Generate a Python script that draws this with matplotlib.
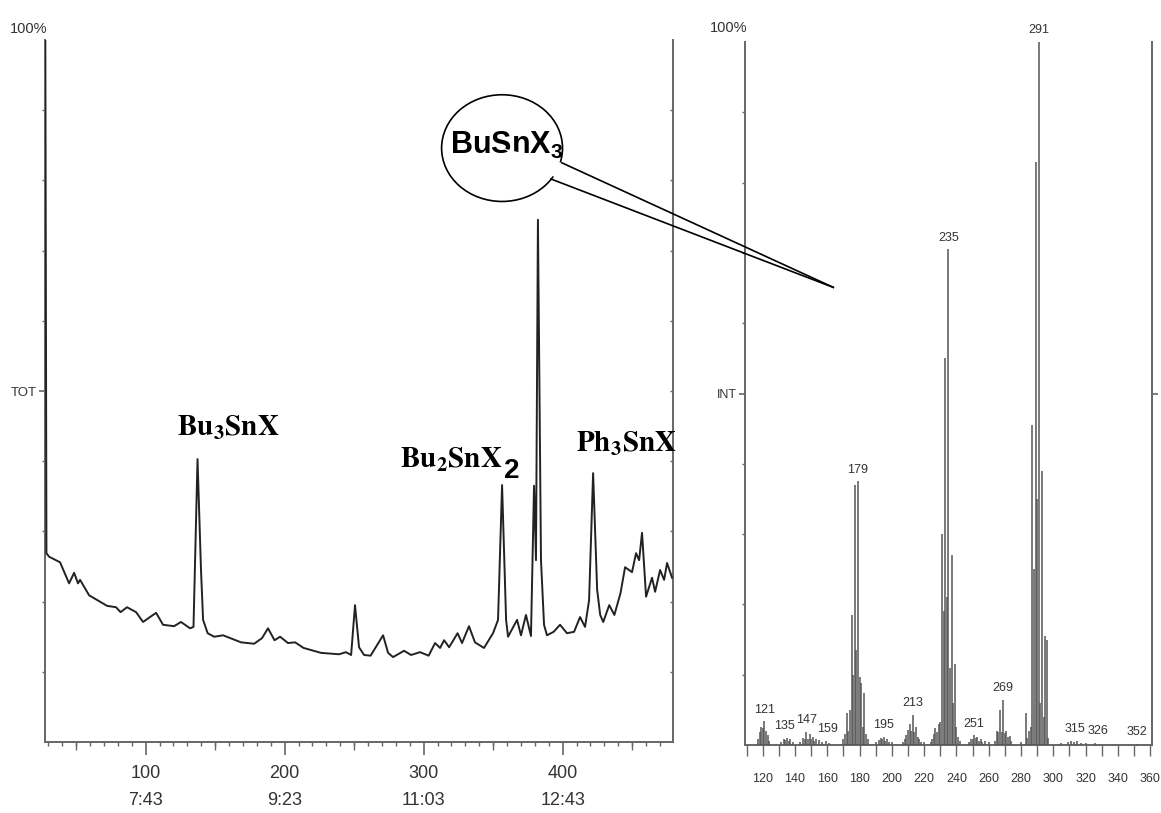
import numpy as np
import matplotlib.pyplot as plt
from matplotlib.patches import Ellipse, Polygon
from matplotlib.lines import Line2D
from matplotlib.ticker import MultipleLocator, FixedLocator, NullFormatter

# total ion current trace: scan number and % of full scale
scan = [27.8, 28.6, 30.5, 38.4, 44.9, 48.5, 51.3, 52.8, 59.3, 72.2,
        78.7, 81.9, 86.6, 93.1, 98.1, 103.1, 107.5, 112.5, 120.4, 125.4,
        131.9, 134.4, 137.3, 139.8, 141.3, 144.6, 149.2, 155.7, 168.6, 178.0,
        183.7, 188.0, 192.7, 196.7, 202.4, 207.5, 213.6, 226.2, 239.1, 244.1,
        247.8, 250.6, 253.5, 257.1, 261.8, 270.8, 274.4, 278.0, 285.9, 290.9,
        297.4, 303.6, 308.2, 311.8, 314.7, 318.3, 324.4, 327.6, 332.6, 336.9,
        343.4, 349.9, 353.5, 356.4, 359.3, 360.7, 367.2, 370.0, 373.6, 377.2,
        379.4, 380.8, 382.2, 384.4, 386.6, 388.7, 393.5, 398.1, 403.1, 408.2,
        412.5, 416.1, 419.0, 421.9, 424.8, 427.0, 429.2, 433.5, 437.2, 441.6,
        444.9, 449.9, 452.8, 455.0, 457.1, 460.0, 464.3, 466.5, 470.1, 473.0,
        475.1, 478.7]
tic = [100.0, 26.9, 26.4, 25.6, 22.6, 24.1, 22.6, 23.1, 20.9, 19.4,
       19.2, 18.5, 19.2, 18.5, 17.1, 17.8, 18.4, 16.7, 16.5, 17.1,
       16.2, 16.4, 40.3, 24.5, 17.4, 15.5, 15.0, 15.2, 14.2, 14.0,
       14.8, 16.2, 14.5, 15.0, 14.1, 14.2, 13.4, 12.7, 12.5, 12.8,
       12.4, 19.5, 13.5, 12.4, 12.3, 15.2, 12.7, 12.1, 13.0, 12.4,
       12.8, 12.3, 14.1, 13.4, 14.5, 13.5, 15.5, 14.1, 16.5, 14.2,
       13.4, 15.5, 17.4, 36.6, 17.4, 15.0, 17.4, 15.2, 18.1, 15.1,
       36.5, 25.9, 74.4, 25.9, 16.7, 15.2, 15.7, 16.7, 15.5, 15.7,
       17.8, 16.4, 20.2, 38.3, 21.7, 18.1, 17.1, 19.5, 18.1, 21.2,
       24.9, 24.2, 26.9, 25.9, 29.8, 20.7, 23.4, 21.4, 24.5, 23.1,
       25.5, 23.4]

scan_ticks = [100, 200, 300, 400]
rt_labels = ["7:43", "9:23", "11:03", "12:43"]

# compound labels: text, scan, % position
peak_names = [r"$\mathbf{Bu_3SnX}$", r"$\mathbf{Bu_2SnX}$", r"$\mathbf{Ph_3SnX}$"]
peak_name_x = [159.3, 320.0, 445.6]
peak_name_y = [44.7, 40.2, 42.4]

# mass spectrum (m/z, relative intensity %)
mz = [117, 118, 119, 120, 121, 122, 123, 124,
      131, 133, 134, 135, 136, 137, 139,
      143, 145, 146, 147, 148, 149, 150, 151, 152, 153, 155, 157, 159, 161,
      170, 171, 172, 173, 174, 175, 176, 177, 178, 179, 180, 181, 182, 183, 184, 185,
      190, 192, 193, 194, 195, 196, 197, 198, 200,
      207, 208, 209, 210, 211, 212, 213, 214, 215, 216, 217, 218, 220,
      224, 225, 226, 227, 228, 229, 230, 231, 232, 233, 234, 235, 236, 237, 238, 239, 240, 241, 242,
      248, 249, 250, 251, 252, 253, 254, 255, 256, 258, 260,
      264, 265, 266, 267, 268, 269, 270, 271, 272, 273, 274,
      280, 283, 284, 285, 286, 287, 288, 289, 290, 291, 292, 293, 294, 295, 296, 297,
      305, 309, 311, 313, 315, 317, 320, 326, 352]
intensity = [0.8, 1.8, 2.6, 2.4, 3.4, 2.0, 1.4, 0.6,
             0.5, 0.9, 0.7, 1.0, 0.6, 0.8, 0.4,
             0.5, 1.0, 0.8, 1.9, 0.9, 1.5, 0.8, 1.1, 0.6, 0.9, 0.7, 0.5, 0.6, 0.3,
             0.8, 1.5, 4.5, 2.0, 5.0, 18.5, 10.0, 37.0, 13.5, 37.5, 9.7, 8.8, 2.5, 7.4, 1.5, 0.8,
             0.4, 0.7, 1.0, 0.8, 1.2, 0.6, 0.9, 0.4, 0.5,
             0.5, 0.9, 1.4, 2.2, 3.0, 2.0, 4.3, 1.8, 2.6, 1.2, 0.9, 0.5, 0.4,
             0.5, 0.9, 1.5, 2.4, 1.8, 3.0, 3.3, 30.0, 19.0, 55.0, 21.0, 70.5, 11.0, 27.0, 6.0, 11.5, 2.5, 1.2, 0.6,
             0.4, 0.9, 0.8, 1.4, 1.0, 1.1, 0.6, 0.8, 0.5, 0.6, 0.4,
             0.6, 2.0, 1.8, 5.0, 1.8, 6.4, 1.7, 2.0, 1.2, 1.3, 0.6,
             0.5, 4.5, 1.0, 2.0, 2.5, 45.5, 25.0, 83.0, 35.0, 100.0, 6.0, 39.0, 4.0, 15.5, 15.0, 1.0,
             0.3, 0.5, 0.6, 0.4, 0.6, 0.3, 0.3, 0.3, 0.2]
labelled_mz = [121, 135, 147, 159, 179, 195, 213, 235, 251, 269, 291, 315, 326, 352]
# small sideways nudges (points) where neighbouring labels crowd
label_nudge = {135: -1.6, 159: 1.6, 315: -1.8, 326: 1.8}

plt.rcParams['font.family'] = ['Liberation Sans', 'DejaVu Sans']
plt.rcParams['mathtext.fontset'] = 'custom'
plt.rcParams['mathtext.bf'] = 'Liberation Sans:bold'
plt.rcParams['mathtext.rm'] = 'Liberation Sans'

axcol = '#666666'
txtcol = '#333333'

fig = plt.figure(figsize=(11.61, 8.13), dpi=100)
ax = fig.add_axes([0.0388, 0.0873, 0.5409, 0.8635])
ax2 = fig.add_axes([0.6417, 0.0836, 0.3506, 0.8647])

# ---- chromatogram ----
ax.plot(scan, tic, color='#222222', lw=1.4, zorder=3)
ax.set_xlim(27.6, 479.4)
ax.set_ylim(0, 100)
ax.spines['top'].set_visible(False)
for s in ['left', 'bottom', 'right']:
    ax.spines[s].set_color(axcol)
    ax.spines[s].set_linewidth(1.4)

ax.set_xticks(scan_ticks)
ax.set_xticklabels(["{}\n{}".format(s, t) for s, t in zip(scan_ticks, rt_labels)],
                   fontsize=13, linespacing=1.75, color=txtcol)
ax.xaxis.set_minor_locator(MultipleLocator(10))
ax.tick_params(axis='x', which='major', length=9.4, width=1.2, color=axcol, pad=7)
ax.tick_params(axis='x', which='minor', length=3, width=1.0, color=axcol)
mid = ax.secondary_xaxis('bottom')
mid.set_xticks(np.arange(50, 480, 100))
mid.xaxis.set_major_formatter(NullFormatter())
mid.tick_params(length=5.8, width=1.0, color=axcol)
mid.spines['bottom'].set_visible(False)

ax.set_yticks([50])
ax.set_yticklabels(['TOT'], fontsize=9.5, color=txtcol)
ax.yaxis.set_minor_locator(FixedLocator([10, 20, 30, 40, 60, 70, 80, 90]))
ax.tick_params(axis='y', which='major', length=4, width=1.2, color=axcol, pad=2)
ax.tick_params(axis='y', which='minor', length=2, width=1.0, color=axcol)
rsec = ax.secondary_yaxis('right')
rsec.set_yticks(np.arange(10, 100, 10))
rsec.yaxis.set_major_formatter(NullFormatter())
rsec.tick_params(direction='in', length=2, width=1.0, color=axcol)
rsec.spines['right'].set_visible(False)

ax.annotate('100%', (0, 1), xycoords='axes fraction', xytext=(1.5, 3),
            textcoords='offset points', ha='right', va='bottom',
            fontsize=10.5, color=txtcol)

serif = dict(fontsize=21, color='black', math_fontfamily='stix')
for name, x, y in zip(peak_names, peak_name_x, peak_name_y):
    t = ax.text(x, y, name, ha='center', va='center', **serif)
    if name == peak_names[1]:
        # trailing "2" set larger, in sans, sitting low
        ax.annotate('2', xy=(1, 0), xycoords=t, xytext=(1, -7),
                    textcoords='offset points', ha='left', va='bottom',
                    fontsize=20, fontweight='bold', color='black')

# ---- mass spectrum ----
ax2.vlines(mz, 0, intensity, color='#555555', lw=1.1, zorder=3)
ax2.set_xlim(109, 361.2)
ax2.set_ylim(0, 100)
ax2.spines['top'].set_visible(False)
for s in ['left', 'bottom', 'right']:
    ax2.spines[s].set_color(axcol)
    ax2.spines[s].set_linewidth(1.4)
ax2.set_xticks(np.arange(120, 361, 20))
ax2.set_xticklabels([str(v) for v in range(120, 361, 20)], fontsize=9, color=txtcol)
ax2.xaxis.set_minor_locator(MultipleLocator(10))
ax2.tick_params(axis='x', which='both', length=8, width=1.0, color=axcol, pad=12)
ax2.set_yticks([50])
ax2.set_yticklabels(['INT'], fontsize=9, color=txtcol)
ax2.yaxis.set_minor_locator(FixedLocator([10, 20, 30, 40, 60, 70, 80, 90]))
ax2.tick_params(axis='y', which='major', length=4, width=1.2, color=axcol, pad=2,
                right=True)
ax2.tick_params(axis='y', which='minor', length=2, width=1.0, color=axcol)

ax2.annotate('100%', (0, 1), xycoords='axes fraction', xytext=(1.5, 5),
             textcoords='offset points', ha='right', va='bottom',
             fontsize=10.5, color=txtcol)

for m in labelled_mz:
    val = intensity[mz.index(m)]
    ax2.annotate(str(m), (m, val), xytext=(label_nudge.get(m, 0), 4),
                 textcoords='offset points', ha='center', va='bottom',
                 fontsize=9, color=txtcol, annotation_clip=False)

# ---- callout bubble pointing at the spectrum ----
bub_c = (356.4, 84.6)
bubble = Ellipse(bub_c, 87, 15.2, facecolor='white', edgecolor='black',
                 lw=1.2, clip_on=False, zorder=5)
ax.add_patch(bubble)
ax.text(360.0, 85.0, r"$\mathbf{BuSnX_3}$", ha='center', va='center',
        fontsize=22, zorder=8, clip_on=False)

to_fig = fig.transFigure.inverted()
a1 = to_fig.transform(ax.transData.transform((399.5, 82.5)))
a2 = to_fig.transform(ax.transData.transform((391.6, 80.2)))
cen = to_fig.transform(ax.transData.transform(bub_c))
tip = to_fig.transform(ax2.transData.transform((163.7, 65.1)))
k = 0.08
gap = Polygon([cen, a1, a1 + k * (tip - a1), a2 + k * (tip - a2)],
              closed=True, facecolor='white', edgecolor='none',
              transform=fig.transFigure, zorder=6)
fig.add_artist(gap)
for a in (a1, a2):
    fig.add_artist(Line2D([a[0], tip[0]], [a[1], tip[1]], color='black',
                          lw=1.2, transform=fig.transFigure, zorder=7))

fig.savefig('out.png', dpi=100, facecolor='white')
